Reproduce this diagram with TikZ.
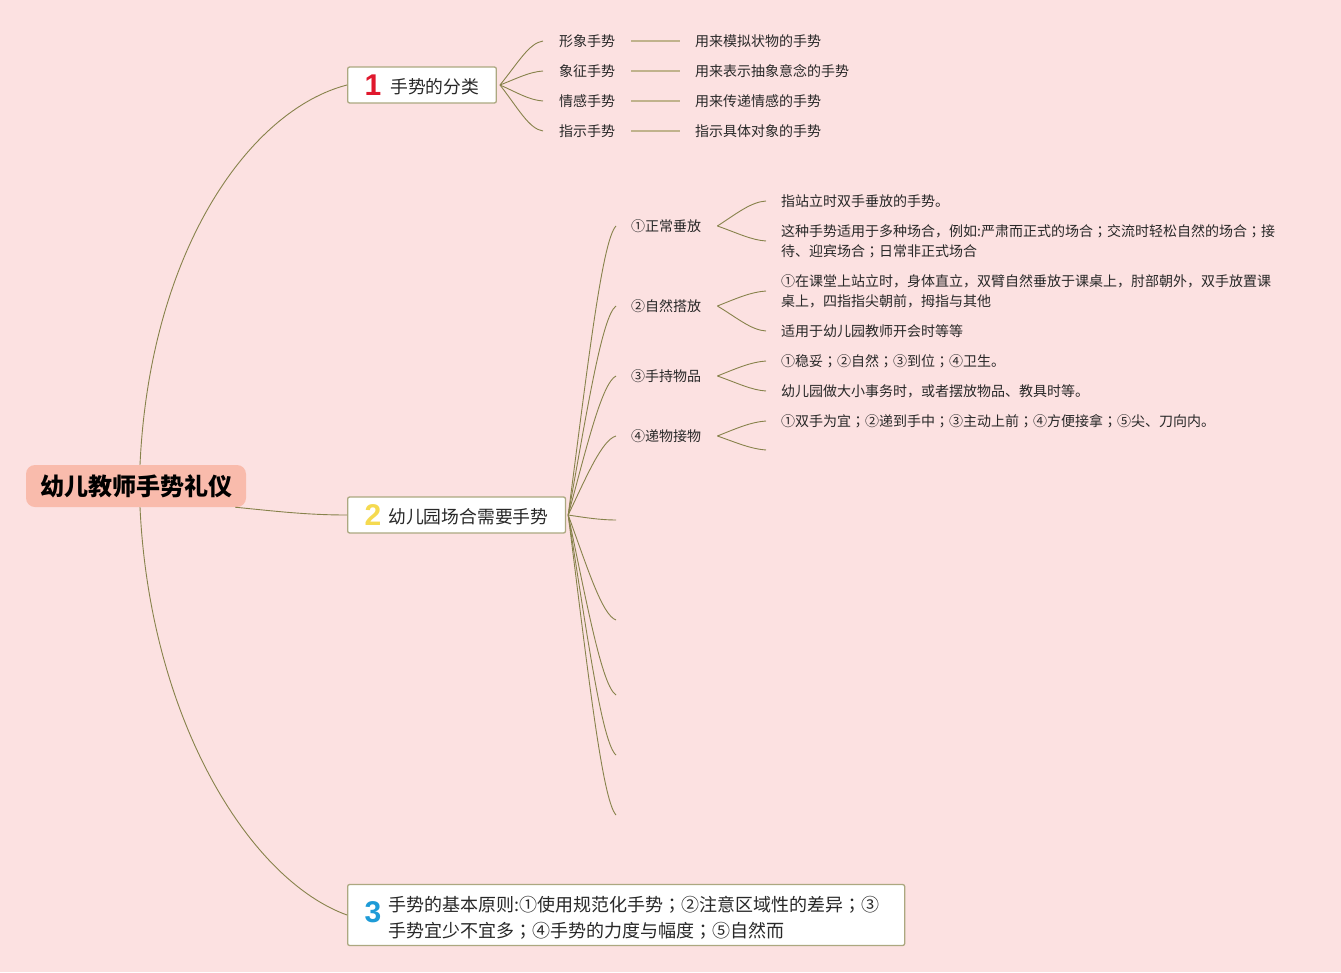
\documentclass[tikz,border=0pt]{standalone}
\usepackage{fontspec}
\setmainfont{Noto Sans CJK SC}
\newfontfamily\jpfont{Noto Sans CJK JP}
\newfontfamily\numfont{Liberation Sans}
\newcommand\fsemi{{\jpfont ；}}
\usetikzlibrary{calc}
\definecolor{bgC}{RGB}{252,225,225}
\definecolor{rootC}{RGB}{249,187,172}
\definecolor{lineC}{RGB}{135,130,75}
\definecolor{flatC}{RGB}{192,178,140}
\definecolor{boxC}{RGB}{172,168,128}
\definecolor{txtC}{RGB}{40,40,40}
\definecolor{oneC}{RGB}{224,24,45}
\definecolor{twoC}{RGB}{245,218,80}
\definecolor{threeC}{RGB}{30,155,215}
\tikzset{
  rootbox/.style={fill=rootC, rounded corners=9pt, minimum width=220pt, minimum height=42pt,
    inner sep=0pt, font=\fontsize{24}{28}\selectfont\bfseries, text=black},
  topicbox/.style={draw=boxC, line width=1.3pt, fill=white, rounded corners=2pt, anchor=west,
    inner xsep=17pt, inner ysep=3pt, minimum height=36pt, font=\fontsize{17.8}{26}\selectfont, text=txtC},
  leaf/.style={anchor=west, inner sep=0pt, font=\fontsize{14}{20}\selectfont, text=txtC, align=left},
  link/.style={draw=lineC, line width=0.9pt},
  flat/.style={draw=flatC, line width=1.4pt, shorten <=16pt, shorten >=15pt}
}
\begin{document}
\begin{tikzpicture}[x=1pt,y=-1pt]
\path[fill=bgC] (0,0) rectangle (1341,972);
\useasboundingbox (0,0) rectangle (1341,972);

% root
\node[rootbox] (root) at (136,486) {幼儿教师手势礼仪};

% main topics
\node[topicbox] (n1) at (347,85) {{\numfont\bfseries\fontsize{30}{30}\selectfont\color{oneC}1}\hspace{9pt}\raisebox{2pt}{手势的分类}};
\node[topicbox] (n2) at (347,515) {{\numfont\bfseries\fontsize{30}{30}\selectfont\color{twoC}2}\hspace{7pt}\raisebox{2pt}{幼儿园场合需要手势}};
\node[topicbox, minimum height=61pt, inner ysep=4pt, inner xsep=0pt, text width=557pt, align=left] (n3) at (347,915) {\hspace*{17pt}\raisebox{-3pt}[\height][\depth]{\numfont\bfseries\fontsize{30}{30}\selectfont\color{threeC}3}\hspace{7pt}%
  \fontsize{18}{26}\selectfont\raisebox{-4pt}[\height][\depth]{\begin{tabular}{@{}l@{}}手势的基本原则:①使用规范化手势\fsemi ②注意区域性的差异\fsemi ③\\手势宜少不宜多\fsemi ④手势的力度与幅度\fsemi ⑤自然而\end{tabular}}};

% root links
\draw[link] ([xshift=4pt]root.north) .. controls +(10,-215) and +(-97,25) .. (n1.west);
\draw[link] ([xshift=4pt]root.south) .. controls +(10,213) and +(-97,-35) .. (n3.west);
\draw[link] ([xshift=-11pt]root.south east) .. controls +(40,4) and +(-40,0) .. (n2.west);

% topic 1 children
\node[leaf] (c1a) at (559,41) {形象手势};
\node[leaf] (c1b) at (559,71) {象征手势};
\node[leaf] (c1c) at (559,101) {情感手势};
\node[leaf] (c1d) at (559,131) {指示手势};
\node[leaf] (d1a) at (695,41) {用来模拟状物的手势};
\node[leaf] (d1b) at (695,71) {用来表示抽象意念的手势};
\node[leaf] (d1c) at (695,101) {用来传递情感的手势};
\node[leaf] (d1d) at (695,131) {指示具体对象的手势};
\coordinate (n1o) at ([xshift=3pt]n1.east);
\draw[link] (n1o) .. controls +(18,-22) and +(-14,2) .. ([xshift=-16pt]c1a.west);
\draw[link] (n1o) .. controls +(18,-7) and +(-14,1) .. ([xshift=-16pt]c1b.west);
\draw[link] (n1o) .. controls +(18,8) and +(-14,-1) .. ([xshift=-16pt]c1c.west);
\draw[link] (n1o) .. controls +(18,23) and +(-14,-2) .. ([xshift=-16pt]c1d.west);
\draw[flat] (c1a.east) -- (d1a.west);
\draw[flat] (c1b.east) -- (d1b.west);
\draw[flat] (c1c.east) -- (d1c.west);
\draw[flat] (c1d.east) -- (d1d.west);

% topic 2 children
\node[leaf] (s1) at (631,226) {①正常垂放};
\node[leaf] (s2) at (631,306) {②自然搭放};
\node[leaf] (s3) at (631,376) {③手持物品};
\node[leaf] (s4) at (631,436) {④递物接物};
\coordinate (e5) at (616,520);
\coordinate (e6) at (616,620);
\coordinate (e7) at (616,695);
\coordinate (e8) at (616,755);
\coordinate (e9) at (616,815);
\coordinate (n2o) at ([xshift=2pt]n2.east);
\draw[link] (n2o) .. controls +(19,-145) and +(-14,14) .. ([xshift=-15pt]s1.west);
\draw[link] (n2o) .. controls +(19,-105) and +(-14,10) .. ([xshift=-15pt]s2.west);
\draw[link] (n2o) .. controls +(19,-70) and +(-14,7) .. ([xshift=-15pt]s3.west);
\draw[link] (n2o) .. controls +(19,-40) and +(-14,4) .. ([xshift=-15pt]s4.west);
\draw[link] (n2o) .. controls +(19,3) and +(-14,0) .. (e5);
\draw[link] (n2o) .. controls +(19,52) and +(-14,-5) .. (e6);
\draw[link] (n2o) .. controls +(19,90) and +(-14,-9) .. (e7);
\draw[link] (n2o) .. controls +(19,120) and +(-14,-12) .. (e8);
\draw[link] (n2o) .. controls +(19,150) and +(-14,-15) .. (e9);

% level 3
\node[leaf] (t1a) at (781,201) {指站立时双手垂放的手势。};
\node[leaf] (t1b) at (781,241) {这种手势适用于多种场合，例如:严肃而正式的场合\fsemi 交流时轻松自然的场合\fsemi 接\\待、迎宾场合\fsemi 日常非正式场合};
\node[leaf] (t2a) at (781,291) {①在课堂上站立时，身体直立，双臂自然垂放于课桌上，肘部朝外，双手放置课\\桌上，四指指尖朝前，拇指与其他};
\node[leaf] (t2b) at (781,331) {适用于幼儿园教师开会时等等};
\node[leaf] (t3a) at (781,361) {①稳妥\fsemi ②自然\fsemi ③到位\fsemi ④卫生。};
\node[leaf] (t3b) at (781,391) {幼儿园做大小事务时，或者摆放物品、教具时等。};
\node[leaf] (t4a) at (781,421) {①双手为宜\fsemi ②递到手中\fsemi ③主动上前\fsemi ④方便接拿\fsemi ⑤尖、刀向内。};
\coordinate (t4b) at (766,450);

\draw[link] ([xshift=16pt]s1.east) .. controls +(20,-13) and +(-15,1) .. ([xshift=-15pt]t1a.west);
\draw[link] ([xshift=16pt]s1.east) .. controls +(20,7) and +(-15,-1) .. ([xshift=-15pt]t1b.west);
\draw[link] ([xshift=16pt]s2.east) .. controls +(20,-8) and +(-15,1) .. ([xshift=-15pt]t2a.west);
\draw[link] ([xshift=16pt]s2.east) .. controls +(20,12) and +(-15,-1) .. ([xshift=-15pt]t2b.west);
\draw[link] ([xshift=16pt]s3.east) .. controls +(20,-8) and +(-15,1) .. ([xshift=-15pt]t3a.west);
\draw[link] ([xshift=16pt]s3.east) .. controls +(20,7) and +(-15,-1) .. ([xshift=-15pt]t3b.west);
\draw[link] ([xshift=16pt]s4.east) .. controls +(20,-8) and +(-15,1) .. ([xshift=-15pt]t4a.west);
\draw[link] ([xshift=16pt]s4.east) .. controls +(20,7) and +(-15,-1) .. (t4b);
\end{tikzpicture}
\end{document}
